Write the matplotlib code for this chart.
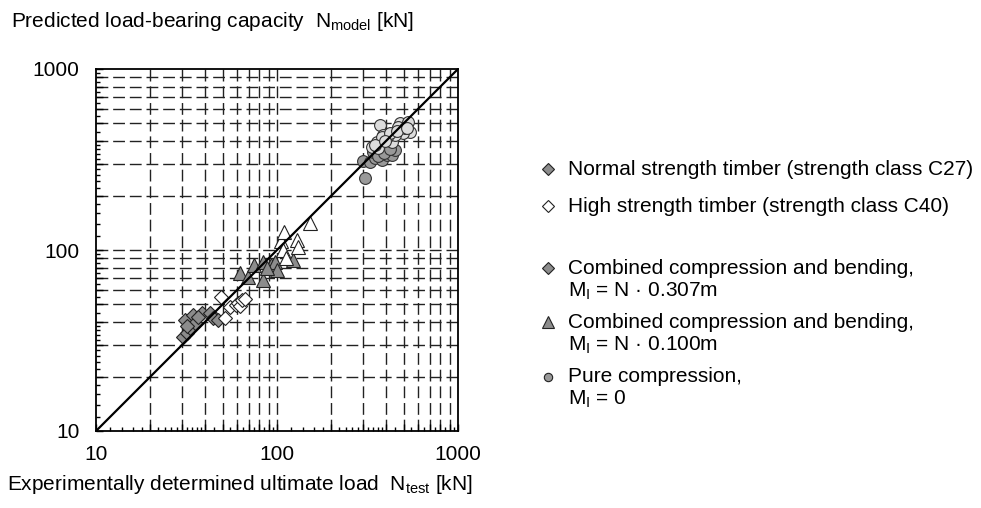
import matplotlib
matplotlib.use("Agg")
import matplotlib.pyplot as plt
from matplotlib.lines import Line2D
import numpy as np

plt.rcParams['font.family'] = ['Liberation Sans', 'DejaVu Sans']
plt.rcParams['mathtext.default'] = 'regular'

# ---- data ----
c27_m307_x = [30.4, 31.0, 31.7, 33.1, 34.5, 35.2, 38.7, 42.7, 44.5, 47.4, 32.0, 36.5]
c27_m307_y = [33.2, 41.0, 34.6, 36.9, 43.7, 39.4, 44.7, 44.7, 42.0, 41.0, 38.0, 42.5]
c40_m307_x = [49.1, 51.6, 55.0, 59.0, 60.9, 62.5, 64.1, 66.5]
c40_m307_y = [55.0, 42.1, 48.4, 49.5, 51.0, 49.1, 53.0, 53.6]
c27_m100_x = [62.5, 69.4, 74.6, 83.7, 84.0, 92.6, 97.5, 99.6, 123.0, 88.0]
c27_m100_y = [74.3, 70.7, 82.6, 86.2, 68.3, 82.6, 85.9, 77.6, 88.1, 80.0]
c40_m100_x = [105.2, 107.6, 109.3, 112.2, 128.9, 130.6, 152.0]
c40_m100_y = [112.2, 100.0, 125.7, 90.3, 113.6, 104.0, 141.0]
c27_m0_x = [306, 300, 326, 348, 379, 404, 430, 449, 340, 371, 412, 360, 390, 420]
c27_m0_y = [249, 310, 308, 321, 314, 335, 335, 357, 349, 365, 380, 330, 345, 360]
c40_m0_x = [371, 478, 531, 543, 499, 468, 387, 355, 334, 363, 430, 449, 404, 509, 380, 420, 460, 520, 350, 395]
c40_m0_y = [491, 501, 508, 451, 441, 480, 432, 396, 372, 365, 396, 432, 423, 470, 420, 445, 455, 470, 380, 400]

axis_limits = [10, 1000]
major_ticks = [10, 20, 30, 40, 50, 60, 70, 80, 90, 100, 200, 300, 400, 500, 600, 700, 800, 900, 1000]
minor_ticks = [12, 14, 16, 18, 22, 24, 26, 28, 32, 34, 36, 38, 45, 55, 65, 75, 85, 95,
               120, 140, 160, 180, 220, 240, 260, 280, 320, 340, 360, 380, 450, 550, 650, 750, 850, 950]
label_ticks = [10, 100, 1000]
grid_vals = [20, 30, 40, 50, 60, 70, 80, 90, 100, 200, 300, 400, 500, 600, 700, 800, 900]

legend_entries = [
    ("Normal strength timber (strength class C27)", None),
    ("High strength timber (strength class C40)", None),
    ("Combined compression and bending,", "$M_I$ = N \u00b7 0.307m"),
    ("Combined compression and bending,", "$M_I$ = N \u00b7 0.100m"),
    ("Pure compression,", "$M_I$ = 0"),
]

W, H = 981, 508
fig = plt.figure(figsize=(W / 100, H / 100), dpi=100)
ax = fig.add_axes([96 / W, (H - 431) / H, 362 / W, 362 / H])
ax.set_xscale('log')
ax.set_yscale('log')
ax.set_xlim(axis_limits)
ax.set_ylim(axis_limits)

dash = (0, (8.5, 3.5))
for g in grid_vals:
    ax.axvline(g, color='#222222', lw=1.0, ls=dash, zorder=1)
    ax.axhline(g, color='#222222', lw=1.0, ls=dash, zorder=1)

gray = '#8c8c8c'
ms_d, ms_t, ms_c = 7.5, 9.5, 8.5
ax.plot(c27_m0_x, c27_m0_y, 'o', ms=ms_c, mfc='#999999', mec='#333333', mew=0.8, zorder=3)
ax.plot(c40_m0_x, c40_m0_y, 'o', ms=ms_c, mfc='#dcdcdc', mec='#333333', mew=0.8, zorder=3)
ax.plot(c27_m307_x, c27_m307_y, 'D', ms=ms_d, mfc=gray, mec='#222222', mew=0.8, zorder=3)
ax.plot(c40_m307_x, c40_m307_y, 'D', ms=ms_d, mfc='white', mec='#222222', mew=0.8, zorder=3)
ax.plot(c27_m100_x, c27_m100_y, '^', ms=ms_t, mfc=gray, mec='#222222', mew=0.8, zorder=3)
ax.plot(c40_m100_x, c40_m100_y, '^', ms=ms_t, mfc='white', mec='#222222', mew=0.8, zorder=3)

ax.plot(axis_limits, axis_limits, color='black', lw=1.6, zorder=4)

for a in (ax.xaxis, ax.yaxis):
    a.set_major_locator(matplotlib.ticker.FixedLocator(major_ticks))
    a.set_minor_locator(matplotlib.ticker.FixedLocator(minor_ticks))
    a.set_major_formatter(matplotlib.ticker.FuncFormatter(
        lambda v, p: f"{int(v)}" if int(round(v)) in label_ticks else ""))
    a.set_minor_formatter(matplotlib.ticker.NullFormatter())
ax.tick_params(which='major', direction='in', length=5, width=1, labelsize=15, color='black')
ax.tick_params(which='minor', direction='in', length=3, width=1, color='black')
ax.tick_params(axis='x', which='major', pad=10)
ax.tick_params(axis='y', which='major', pad=12)
for s in ax.spines.values():
    s.set_linewidth(1.3)

fig.text(11 / W, 1 - 27 / H, "Predicted load-bearing capacity  $N_{model}$ [kN]",
         fontsize=15, ha='left', va='baseline')
fig.text(7 / W, 1 - 490 / H, "Experimentally determined ultimate load  $N_{test}$ [kN]",
         fontsize=15, ha='left', va='baseline')

# legend (manual)
rows = [(169, None), (206, None), (268, 291), (322, 345), (377, 399)]
markers = [('D', gray, 6), ('D', 'white', 6), ('D', gray, 6), ('^', gray, 8), ('o', '#999999', 6)]
mx, tx = 548, 568
for (txt1, txt2), (y1, y2), (m, fc, ms) in zip(legend_entries, rows, markers):
    fig.add_artist(Line2D([mx / W], [1 - y1 / H], marker=m, ms=ms, mfc=fc, mec='#222222',
                          mew=0.8, ls='none', transform=fig.transFigure))
    fig.text(tx / W, 1 - y1 / H, txt1, fontsize=15, ha='left', va='center')
    if txt2:
        fig.text(tx / W, 1 - y2 / H, txt2, fontsize=15, ha='left', va='center')

fig.savefig("out.png", dpi=100)
